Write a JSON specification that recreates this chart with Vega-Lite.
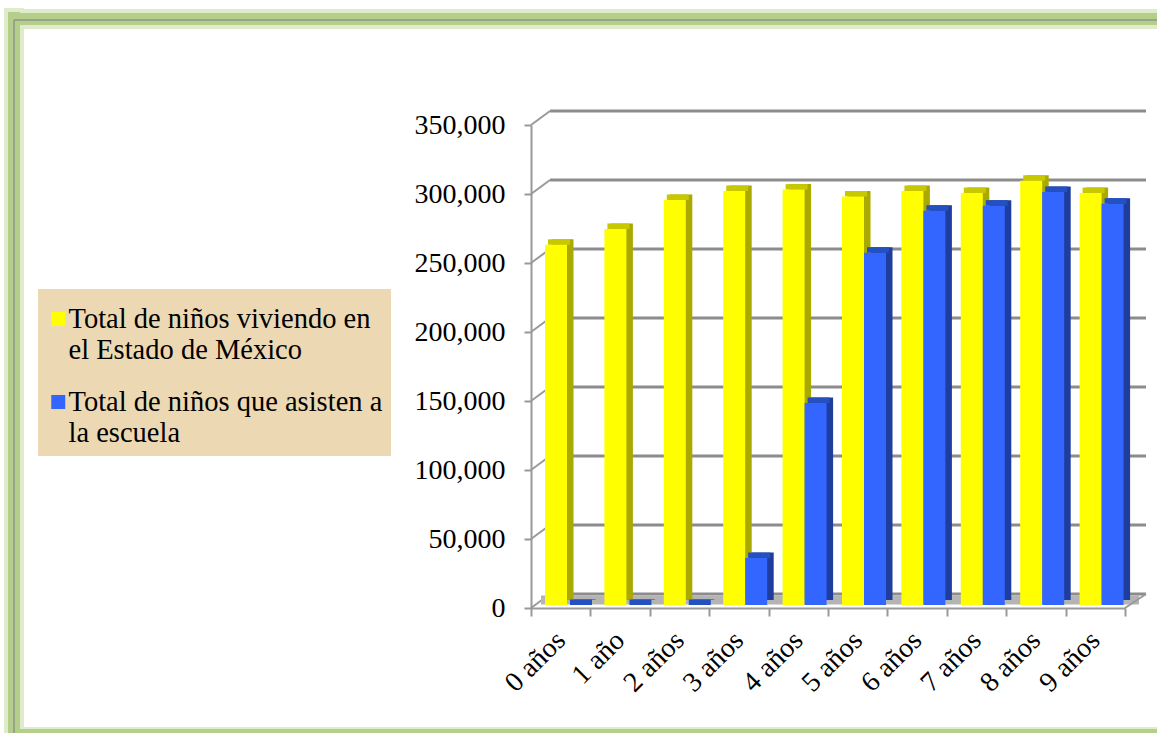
{
"$schema":"https://vega.github.io/schema/vega-lite/v6.json",
"width":1157,"height":733,"padding":0,"autosize":"none","background":"#ffffff",
"view":{"stroke":null},
"config":{"font":"Liberation Serif","view":{"stroke":null}},
"datasets":{
"bars":[
{"edad":"0 años","serie":"Total de niños viviendo en el Estado de México","valor":261000},
{"edad":"1 año","serie":"Total de niños viviendo en el Estado de México","valor":272500},
{"edad":"2 años","serie":"Total de niños viviendo en el Estado de México","valor":293500},
{"edad":"3 años","serie":"Total de niños viviendo en el Estado de México","valor":300000},
{"edad":"4 años","serie":"Total de niños viviendo en el Estado de México","valor":301000},
{"edad":"5 años","serie":"Total de niños viviendo en el Estado de México","valor":296000},
{"edad":"6 años","serie":"Total de niños viviendo en el Estado de México","valor":300000},
{"edad":"7 años","serie":"Total de niños viviendo en el Estado de México","valor":298500},
{"edad":"8 años","serie":"Total de niños viviendo en el Estado de México","valor":307500},
{"edad":"9 años","serie":"Total de niños viviendo en el Estado de México","valor":298500},
{"edad":"0 años","serie":"Total de niños que asisten a la escuela","valor":0},
{"edad":"1 año","serie":"Total de niños que asisten a la escuela","valor":0},
{"edad":"2 años","serie":"Total de niños que asisten a la escuela","valor":0},
{"edad":"3 años","serie":"Total de niños que asisten a la escuela","valor":34000},
{"edad":"4 años","serie":"Total de niños que asisten a la escuela","valor":146400},
{"edad":"5 años","serie":"Total de niños que asisten a la escuela","valor":255300},
{"edad":"6 años","serie":"Total de niños que asisten a la escuela","valor":285700},
{"edad":"7 años","serie":"Total de niños que asisten a la escuela","valor":289400},
{"edad":"8 años","serie":"Total de niños que asisten a la escuela","valor":299300},
{"edad":"9 años","serie":"Total de niños que asisten a la escuela","valor":290800}
],
"grid":[{"v":0},{"v":50000},{"v":100000},{"v":150000},{"v":200000},{"v":250000},{"v":300000},{"v":350000}],
"one":[{"v":0}]
},
"resolve":{"scale":{"x":"independent","xOffset":"independent","color":"independent"},"axis":{"x":"independent"}},
"layer":[
{"data":{"name":"one"},"mark":{"type":"rule","stroke":"#dfeccb","strokeWidth":20},"encoding":{"x":{"value":14},"y":{"value":8},"y2":{"value":733}}},
{"data":{"name":"one"},"mark":{"type":"rule","stroke":"#dfeccb","strokeWidth":20},"encoding":{"y":{"value":19},"x":{"value":6},"x2":{"value":1157}}},
{"data":{"name":"one"},"mark":{"type":"rule","stroke":"#dfeccb","strokeWidth":12},"encoding":{"y":{"value":733},"x":{"value":6},"x2":{"value":1157}}},
{"data":{"name":"one"},"mark":{"type":"rule","stroke":"#b5cf8a","strokeWidth":12},"encoding":{"x":{"value":14},"y":{"value":12},"y2":{"value":733}}},
{"data":{"name":"one"},"mark":{"type":"rule","stroke":"#b5cf8a","strokeWidth":12},"encoding":{"y":{"value":19},"x":{"value":8},"x2":{"value":1157}}},
{"data":{"name":"one"},"mark":{"type":"rule","stroke":"#b5cf8a","strokeWidth":8},"encoding":{"y":{"value":733},"x":{"value":8},"x2":{"value":1157}}},
{"data":{"name":"one"},"mark":{"type":"rule","stroke":"#8f958a","strokeWidth":1.5},"encoding":{"x":{"value":14},"y":{"value":20},"y2":{"value":733}}},
{"data":{"name":"one"},"mark":{"type":"rule","stroke":"#8f958a","strokeWidth":1.5},"encoding":{"y":{"value":20},"x":{"value":14},"x2":{"value":1157}}},

{"data":{"name":"grid"},"mark":{"type":"rule","stroke":"#8c8c8c","strokeWidth":3,"xOffset":19,"x2Offset":21,"yOffset":-14},
 "encoding":{"y":{"field":"v","type":"quantitative","scale":{"domain":[0,350000],"range":[608,125]},"axis":{"values":[0,50000,100000,150000,200000,250000,300000,350000],"labelExpr":"format(datum.value,',.0f')","offset":-531,"title":null,"grid":false,"domainColor":"#999999","domainWidth":2,"tickColor":"#999999","tickWidth":2,"tickSize":7,"labelFontSize":28,"labelColor":"#000000","labelPadding":19}},
  "x":{"datum":0,"type":"quantitative","scale":{"domain":[0,1],"range":[531,1125]},"axis":null},
  "x2":{"datum":1}}},
{"data":{"name":"grid"},"mark":{"type":"rule","stroke":"#999999","strokeWidth":2,"x2Offset":19,"y2Offset":-14},
 "encoding":{"y":{"field":"v","type":"quantitative"},"y2":{"field":"v"},
  "x":{"datum":0,"type":"quantitative","scale":{"domain":[0,1],"range":[531,1125]},"axis":null},
  "x2":{"datum":0}}},
{"data":{"name":"one"},"mark":{"type":"rule","stroke":"#b4b4b4","strokeWidth":9,"xOffset":10,"x2Offset":14,"yOffset":-8},
 "encoding":{"y":{"field":"v","type":"quantitative"},
  "x":{"datum":0,"type":"quantitative","scale":{"domain":[0,1],"range":[531,1125]},"axis":null},
  "x2":{"datum":1}}},
{"data":{"name":"one"},"mark":{"type":"rule","stroke":"#999999","strokeWidth":2,"x2Offset":21,"y2Offset":-14},
 "encoding":{"y":{"field":"v","type":"quantitative"},"y2":{"field":"v"},
  "x":{"datum":1,"type":"quantitative","scale":{"domain":[0,1],"range":[531,1125]},"axis":null},
  "x2":{"datum":1}}},

{"data":{"name":"bars"},"mark":{"type":"bar","yOffset":-8.5,"y2Offset":-8},
 "encoding":{"x":{"field":"edad","type":"nominal","sort":null,"scale":{"range":[531,1125],"paddingInner":0,"paddingOuter":0},"axis":null},
  "xOffset":{"field":"serie","type":"nominal","sort":null,"scale":{"range":[20.5,64.5],"paddingInner":0,"paddingOuter":0}},
  "y":{"field":"valor","type":"quantitative","stack":null},"y2":{"datum":0},
  "color":{"condition":{"test":"indexof(datum.serie,'viviendo')>0","value":"#a9a900"},"value":"#1f3d9e"}}},
{"data":{"name":"bars"},"mark":{"type":"bar","yOffset":-8.5,"y2Offset":-3},
 "encoding":{"x":{"field":"edad","type":"nominal","sort":null,"scale":{"range":[531,1125],"paddingInner":0,"paddingOuter":0},"axis":null},
  "xOffset":{"field":"serie","type":"nominal","sort":null,"scale":{"range":[17,61],"paddingInner":0,"paddingOuter":0}},
  "y":{"field":"valor","type":"quantitative","stack":null},"y2":{"field":"valor"},
  "color":{"condition":{"test":"indexof(datum.serie,'viviendo')>0","value":"#c8c800"},"value":"#2450c0"}}},
{"data":{"name":"bars"},"mark":{"type":"bar","yOffset":-3,"y2Offset":-3},
 "encoding":{"x":{"field":"edad","type":"nominal","sort":null,"title":null,"scale":{"range":[531,1125],"paddingInner":0,"paddingOuter":0},
   "axis":{"offset":-125,"labelAngle":-45,"tickBand":"extent","labelFontSize":28,"labelColor":"#000000","domainColor":"#999999","domainWidth":2,"tickColor":"#999999","tickWidth":2,"tickSize":8,"labelPadding":20,"labelAlign":"right","labelBaseline":"middle"}},
  "xOffset":{"field":"serie","type":"nominal","sort":null,"scale":{"range":[14,58],"paddingInner":0,"paddingOuter":0}},
  "y":{"field":"valor","type":"quantitative","stack":null},"y2":{"datum":0},
  "color":{"field":"serie","type":"nominal","sort":null,"scale":{"domain":["Total de niños viviendo en el Estado de México","Total de niños que asisten a la escuela"],"range":["#ffff00","#3366ff"]},
   "legend":{"orient":"none","legendX":38,"legendY":289,"title":null,"fillColor":"#ecd9b3","padding":8,"symbolType":"square","symbolSize":196,"symbolStrokeWidth":0,"symbolOffset":-2,"labelFontSize":28.5,"labelColor":"#000000","labelLimit":400,"rowPadding":15,"labelOffset":-4,"labelBaseline":"top",
    "labelExpr":"indexof(datum.label,'viviendo')>0 ? ['Total de niños viviendo en','el Estado de México'] : ['Total de niños que asisten a','la escuela']",
    "encode":{"labels":{"update":{"lineHeight":{"value":31},"dy":{"value":-6}}},"symbols":{"update":{"y":{"value":22}}}}}}}}
]
}
